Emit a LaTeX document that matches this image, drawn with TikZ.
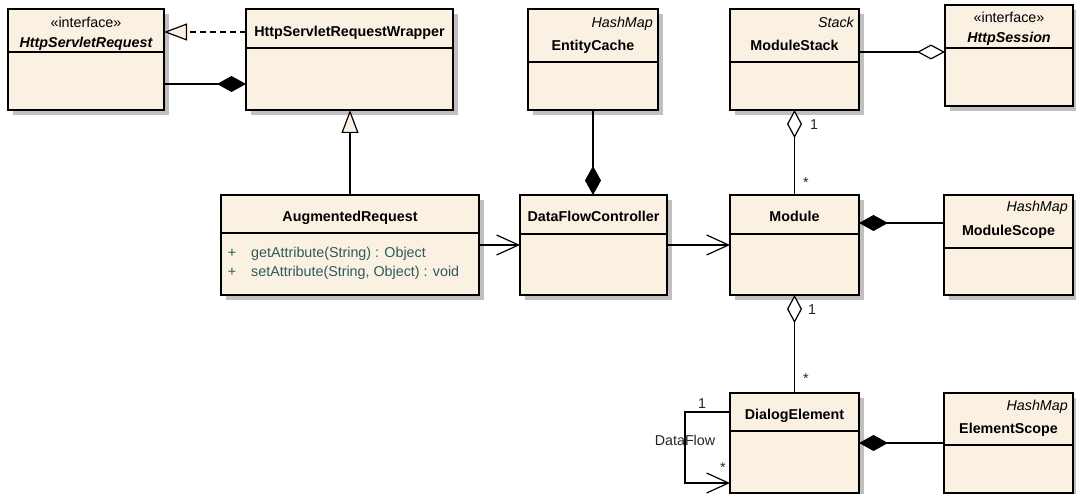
\documentclass[tikz,border=0pt]{standalone}
\usepackage{fontspec}
\setmainfont{Liberation Sans}
\usetikzlibrary{arrows.meta}
\definecolor{boxfill}{RGB}{251,241,227}
\definecolor{shadowc}{RGB}{192,192,192}
\definecolor{methc}{RGB}{45,90,90}
\newcommand\fs{\fontsize{14.3}{17}\selectfont}
\tikzset{
  umlbox/.style={draw=black, line width=1.3pt, fill=boxfill, inner sep=0pt, outer sep=0pt},
  divline/.style={draw=black, line width=1.3pt},
  conn/.style={draw=black, line width=1.2pt},
  txt/.style={anchor=base, inner sep=0pt, font=\fs},
  txtr/.style={anchor=base east, inner sep=0pt, font=\fs\itshape},
  txtl/.style={anchor=base west, inner sep=0pt, font=\fs, text=methc},
  bname/.style={txt, font=\fs\bfseries},
  biname/.style={txt, font=\fs\bfseries\itshape},
  mult/.style={anchor=base, inner sep=0pt, font=\fs, text=black!85},
  compos/.style={-{Turned Square[length=29pt,width=16pt]}},
  aggreg/.style={-{Turned Square[length=28pt,width=15pt,fill=white]}},
  general/.style={-{Triangle[length=23pt,width=17pt,fill=boxfill]}},
  navig/.style={-{Straight Barb[length=22pt,width=20pt]}},
}
\newcommand\umlbox[6]{%
  \fill[shadowc] (#2+5,#3+5) rectangle (#4+5,#5+5);
  \node[umlbox, minimum width=#4pt-#2pt, minimum height=#5pt-#3pt] (#1) at ({(#2+#4)/2},{(#3+#5)/2}) {};
  \draw[divline] (#2,#6) -- (#4,#6);
}
\begin{document}
\begin{tikzpicture}[x=1pt,y=-1pt]
\useasboundingbox (0,0) rectangle (1076,494);
\fill[white] (0,0) rectangle (1076,494);
\clip (0,0) rectangle (1076,494);

% boxes
\umlbox{hsr}{8}{9}{164}{110}{52}
\umlbox{wrap}{246}{9}{453}{110}{48}
\umlbox{ec}{528}{9}{658}{110}{62}
\umlbox{ms}{730}{9}{859}{110}{62}
\umlbox{hs}{945}{5}{1073}{106}{48}
\umlbox{aug}{221}{195}{479}{295}{233}
\umlbox{dfc}{520}{195}{667}{295}{234}
\umlbox{mod}{730}{195}{859}{295}{234}
\umlbox{mscope}{944}{195}{1073}{295}{248}
\umlbox{de}{730}{393}{859}{493}{431}
\umlbox{escope}{944}{393}{1073}{493}{445}

% texts
\node[txt] (t1) at (86,28) {«interface»};
\node[biname] (t2) at (86,48) {HttpServletRequest};
\node[bname] (t3) at (349.5,37) {HttpServletRequestWrapper};
\node[txtr] (t4) at (653,28) {HashMap};
\node[bname] (t5) at (593,51) {EntityCache};
\node[txtr] (t6) at (854,28) {Stack};
\node[bname] (t7) at (794.5,51) {ModuleStack};
\node[txt] (t8) at (1009,23) {«interface»};
\node[biname] (t9) at (1009,43) {HttpSession};
\node[bname] (t10) at (350,222) {AugmentedRequest};
\node[txt, text=methc] (t11) at (232,258) {+};
\node[txt, text=methc] (t12) at (232,277) {+};
\node[txtl] (t13) at (251,258) {getAttribute(String) : Object};
\node[txtl] (t14) at (251,277) {setAttribute(String, Object) : void};
\node[bname] (t15) at (593.5,222) {DataFlowController};
\node[bname] (t16) at (794.5,222) {Module};
\node[txtr] (t17) at (1068,212) {HashMap};
\node[bname] (t18) at (1008.5,236) {ModuleScope};
\node[bname] (t19) at (794.5,419) {DialogElement};
\node[txtr] (t20) at (1068,410) {HashMap};
\node[bname] (t21) at (1008.5,433) {ElementScope};

% helper levels
\coordinate (y32) at (0,32);
\coordinate (y84) at (0,84);
\coordinate (y52) at (0,52);
\coordinate (y223) at (0,223);
\coordinate (y443) at (0,443);
\coordinate (y412) at (0,412);
\coordinate (y483) at (0,483);

% connectors
\draw[conn, dashed, dash pattern=on 6pt off 4pt, general] (wrap.west |- y32) -- (hsr.east |- y32);
\draw[conn, compos] (hsr.east |- y84) -- (wrap.west |- y84);
\draw[conn, general] (aug.north) -- (aug.north |- wrap.south);
\draw[conn, compos] (ec.south) -- (ec.south |- dfc.north);
\draw[conn, navig] (aug.east) -- (dfc.west);
\draw[conn, navig] (dfc.east) -- (mod.west);
\draw[conn, aggreg] (ms.east |- y52) -- (hs.west |- y52);
\draw[conn, aggreg] (mod.north) -- (ms.south);
\draw[conn, compos] (mscope.west |- y223) -- (mod.east |- y223);
\draw[conn, aggreg] (de.north) -- (mod.south);
\draw[conn, compos] (escope.west |- y443) -- (de.east |- y443);
\draw[conn, navig] (de.west |- y412) -- ++(-45,0) |- (de.west |- y483);

% multiplicities and labels
\node[mult] (m1) at (814,130) {1};
\node[mult] (m2) at (806,188) {*};
\node[mult] (m3) at (812,315) {1};
\node[mult] (m4) at (806,383) {*};
\node[mult] (m5) at (702,408) {1};
\node[mult] (m6) at (685,445) {DataFlow};
\node[mult] (m7) at (723,472) {*};
\end{tikzpicture}
\end{document}
